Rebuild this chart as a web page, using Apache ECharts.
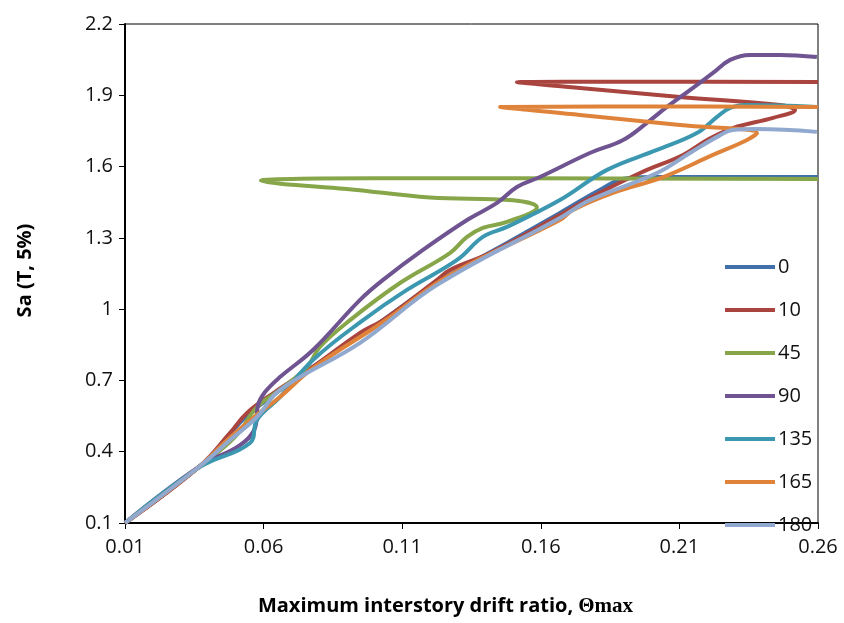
<!DOCTYPE html>
<html>
<head>
<meta charset="utf-8">
<script src="https://cdn.jsdelivr.net/npm/echarts@6/dist/echarts.min.js"></script>
<style>
html,body{margin:0;padding:0;background:#fff;}
#chart{width:844px;height:623px;}
</style>
</head>
<body>
<div id="chart"></div>
<script>
// Tick values
const xTicks = [0.01, 0.06, 0.11, 0.16, 0.21, 0.26];
const yTicks = [0.1, 0.4, 0.7, 1.0, 1.3, 1.6, 1.9, 2.2];

// Legend names
const seriesNames = ['0', '10', '45', '90', '135', '165', '180'];

// [drift ratio, Sa] pairs for each curve
const curve0 = [[0.010,0.100],[0.0371,0.340],[0.0479,0.475],[0.0551,0.563],[0.0778,0.757],[0.1031,0.954],[0.1226,1.114],[0.1478,1.278],[0.1669,1.405],[0.1814,1.502],[0.1904,1.550],[0.203,1.556],[0.26,1.556]];
const curve10 = [[0.010,0.100],[0.0371,0.340],[0.0479,0.479],[0.0540,0.563],[0.0641,0.651],[0.0778,0.757],[0.0948,0.900],[0.1031,0.954],[0.1226,1.123],[0.1272,1.165],[0.1417,1.236],[0.1669,1.396],[0.1777,1.468],[0.1958,1.573],[0.2113,1.649],[0.2200,1.712],[0.2293,1.762],[0.2438,1.805],[0.2517,1.838],[0.2463,1.859],[0.2102,1.893],[0.1741,1.931],[0.1514,1.955],[0.20,1.957],[0.26,1.956]];
const curve45 = [[0.010,0.100],[0.0371,0.340],[0.0497,0.462],[0.0576,0.588],[0.0659,0.660],[0.0757,0.757],[0.0803,0.841],[0.0912,0.954],[0.1092,1.110],[0.1272,1.236],[0.1334,1.304],[0.1391,1.342],[0.1478,1.367],[0.1586,1.428],[0.150,1.458],[0.120,1.470],[0.090,1.506],[0.066,1.528],[0.059,1.541],[0.10,1.551],[0.26,1.548]];
const curve90 = [[0.010,0.100],[0.0371,0.340],[0.0515,0.428],[0.0569,0.500],[0.0580,0.597],[0.0605,0.651],[0.0659,0.714],[0.0778,0.828],[0.0948,1.039],[0.1031,1.123],[0.1175,1.249],[0.1334,1.375],[0.1442,1.447],[0.1514,1.514],[0.1597,1.556],[0.1777,1.657],[0.1897,1.712],[0.1983,1.784],[0.2055,1.851],[0.2138,1.922],[0.2221,1.994],[0.2283,2.049],[0.2355,2.070],[0.2463,2.070],[0.2596,2.061]];
const curve135 = [[0.010,0.100],[0.0371,0.336],[0.0551,0.437],[0.0576,0.534],[0.0659,0.630],[0.0778,0.786],[0.0959,0.954],[0.1117,1.081],[0.1298,1.207],[0.1391,1.304],[0.1478,1.346],[0.1669,1.459],[0.1839,1.586],[0.2019,1.670],[0.2163,1.741],[0.2236,1.809],[0.2283,1.847],[0.2344,1.859],[0.2596,1.851]];
const curve165 = [[0.010,0.100],[0.0371,0.340],[0.0461,0.441],[0.0576,0.555],[0.0659,0.630],[0.0778,0.752],[0.1031,0.946],[0.1272,1.144],[0.1669,1.375],[0.1716,1.417],[0.1860,1.489],[0.2041,1.556],[0.2221,1.649],[0.2344,1.712],[0.2380,1.741],[0.2102,1.775],[0.1741,1.817],[0.1453,1.851],[0.20,1.853],[0.26,1.851]];
const curve180 = [[0.010,0.100],[0.0371,0.340],[0.0479,0.449],[0.0576,0.546],[0.0659,0.660],[0.0948,0.858],[0.1226,1.102],[0.1669,1.384],[0.1777,1.459],[0.2019,1.573],[0.2138,1.657],[0.2236,1.725],[0.2293,1.754],[0.2380,1.758],[0.2596,1.746]];

const curves = [curve0, curve10, curve45, curve90, curve135, curve165, curve180];
const colors = ['#4170AB', '#A9443F', '#87A64A', '#6F5491', '#3C98B0', '#E0833A', '#91A9CF'];

const chart = echarts.init(document.getElementById('chart'));
const labelFont = '"Open Sans", "Liberation Sans", sans-serif';

chart.setOption({
  animation: false,
  color: colors,
  grid: {
    left: 125, right: 26, top: 24, bottom: 100,
    show: true, borderColor: '#000', borderWidth: 1, backgroundColor: 'transparent'
  },
  legend: {
    orient: 'vertical',
    left: 720,
    top: 252,
    icon: 'rect',
    itemWidth: 50,
    itemHeight: 4,
    itemGap: 23,
    data: seriesNames,
    textStyle: { fontSize: 20, color: '#111', fontFamily: labelFont, lineHeight: 20, padding: [0, 0, 0, -2] }
  },
  xAxis: {
    type: 'value',
    min: xTicks[0],
    max: xTicks[xTicks.length - 1],
    interval: 0.05,
    name: 'Maximum interstory drift ratio, {t|Θmax}',
    nameLocation: 'middle',
    nameGap: 73,
    nameTextStyle: {
      fontSize: 20, fontWeight: 'bold', color: '#000', fontFamily: labelFont,
      padding: [0, 52, 0, 0],
      rich: { t: { fontSize: 21, fontWeight: 'bold', fontFamily: '"Liberation Serif", "DejaVu Serif", serif', color: '#000' } }
    },
    splitLine: { show: false },
    axisLine: { lineStyle: { color: '#000', width: 2 } },
    axisTick: { inside: false, length: 6, lineStyle: { color: '#000' } },
    axisLabel: {
      fontSize: 20, color: '#111', fontFamily: labelFont, margin: 14,
      formatter: v => v.toFixed(2)
    }
  },
  yAxis: {
    type: 'value',
    min: yTicks[0],
    max: yTicks[yTicks.length - 1],
    interval: 0.3,
    name: 'Sa (T, 5%)',
    nameLocation: 'middle',
    nameGap: 90,
    nameRotate: 90,
    nameTextStyle: { fontSize: 20, fontWeight: 'bold', color: '#000', fontFamily: labelFont, padding: [0, 0, 0, 6] },
    splitLine: { show: false },
    axisLine: { show: true, lineStyle: { color: '#000', width: 2 } },
    axisTick: { show: true, inside: false, length: 6, lineStyle: { color: '#000' } },
    axisLabel: {
      fontSize: 20, color: '#111', fontFamily: labelFont, margin: 12,
      formatter: v => String(Number(v.toFixed(1)))
    }
  },
  series: curves.map((c, i) => ({
    name: seriesNames[i],
    type: 'line',
    data: c,
    showSymbol: false,
    symbol: 'none',
    smooth: 0.4,
    lineStyle: { width: 4, color: colors[i] },
    itemStyle: { color: colors[i] }
  }))
});
</script>
</body>
</html>
